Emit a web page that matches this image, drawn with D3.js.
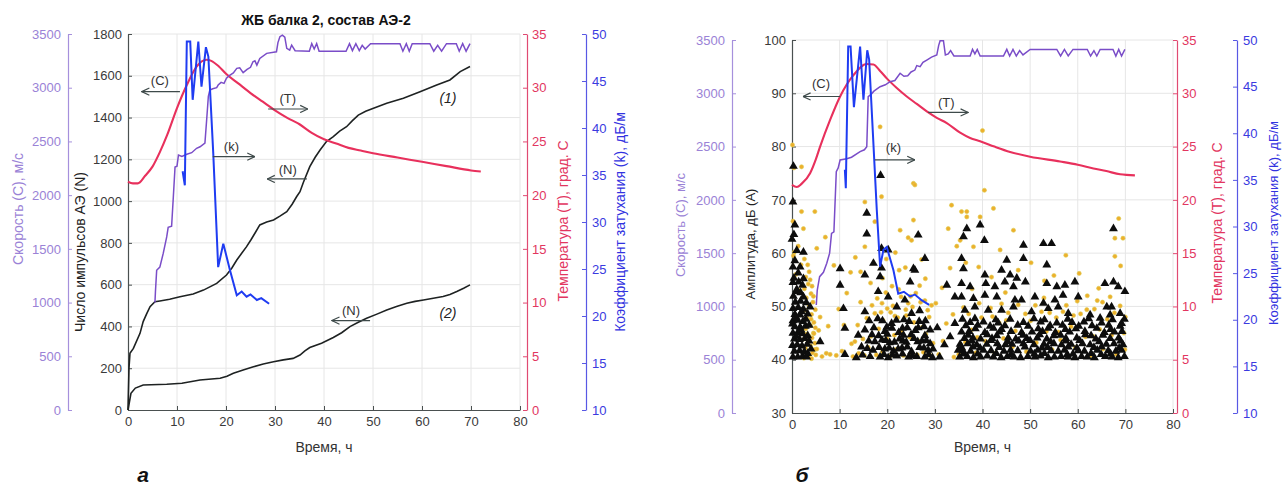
<!DOCTYPE html>
<html>
<head>
<meta charset="utf-8">
<script src="https://cdn.jsdelivr.net/npm/d3@7"></script>
<style>
  body { margin: 0; background: #fff; }
  svg text { font-family: "Liberation Sans", Arial, sans-serif; }
</style>
</head>
<body>
<svg id="fig" width="1282" height="490"></svg>
<script>
// ---- data (time in hours) ----
const timeTicks = [0, 10, 20, 30, 40, 50, 60, 70, 80];
const countTicks = [0, 200, 400, 600, 800, 1000, 1200, 1400, 1600, 1800];
const ampTicks = [30, 40, 50, 60, 70, 80, 90, 100];
const speedTicks = [0, 500, 1000, 1500, 2000, 2500, 3000, 3500];
const tempTicks = [0, 5, 10, 15, 20, 25, 30, 35];
const attTicks = [10, 15, 20, 25, 30, 35, 40, 45, 50];

// panel a: temperature T, speed C, attenuation k, AE counts N (beams 1 and 2)
const tempA = [[0,21.25],[1,21.1],[2,21.1],[3.5,21.8],[5,22.65],[6.5,24],[8,25.6],[10,28.1],[12,30.25],[14,31.96],[16,32.6],[17,32.5],[18.5,32.0],[20,31.3],[22.5,30.4],[25,29.5],[27.5,28.7],[30,27.9],[32.5,27.2],[35,26.6],[37.5,25.8],[40,25.2],[42.5,24.8],[45,24.4],[47.5,24.15],[50,23.9],[55,23.5],[60,23.1],[65,22.7],[70,22.3],[72,22.2]];
const speedA = [[5.5,1000],[5.6,1100],[5.85,1300],[6.5,1330],[7.2,1460],[7.9,1611],[8.2,1700],[8.9,1710],[9.25,1983],[9.6,2262],[10.0,2270],[10.3,2374],[11.0,2360],[12.0,2380],[13.0,2395],[14.0,2436],[14.7,2450],[15.7,2485],[16.05,2700],[16.4,2920],[16.7,2979],[17.3,2990],[18.1,3000],[18.4,3025],[19.0,3050],[19.6,3040],[20.1,3088],[20.6,3110],[21.5,3137],[22.2,3180],[22.8,3185],[23.5,3140],[24.3,3170],[25.0,3190],[25.5,3242],[25.9,3250],[26.3,3210],[26.9,3273],[28.3,3320],[30.3,3335],[30.6,3420],[31.0,3475],[31.5,3490],[32.0,3470],[32.4,3366],[33.0,3350],[33.4,3397],[34.1,3345],[37.0,3340],[37.5,3410],[38.0,3360],[38.5,3410],[39.0,3340],[44.5,3340],[45.2,3410],[45.8,3345],[46.5,3410],[47.2,3345],[47.8,3395],[48.4,3360],[49.5,3410],[55.5,3410],[56.1,3340],[56.8,3410],[57.4,3340],[58.0,3410],[61.6,3410],[62.4,3340],[63.2,3395],[64.0,3340],[65.0,3410],[67.0,3410],[67.6,3340],[68.3,3410],[69.0,3340],[69.8,3410]];
const attA = [[11.15,35.4],[11.6,33.9],[12.0,49.2],[12.7,49.2],[13.2,43.0],[14.35,49.2],[15.0,44.4],[15.9,48.6],[16.4,47.6],[17.4,37.3],[18.4,25.2],[19.45,27.7],[20.8,24.9],[22.2,22.2],[23.2,22.6],[24.2,22.05],[25.0,22.3],[26.3,21.7],[27.2,21.9],[28.8,21.3]];
const countA1 = [[0,0],[0.2,200],[0.4,271],[1.1,295],[2.45,367],[3.1,423],[3.8,460],[4.5,495],[5.5,518],[6.5,522],[8.5,530],[10.6,542],[13.3,555],[15.4,574],[18.1,606],[20.1,646],[21.2,680],[22.2,718],[23.2,750],[24.2,782],[25.1,815],[25.9,846],[26.9,886],[28.3,900],[29.7,910],[31.0,928],[32.4,949],[33.5,985],[34.4,1021],[35.1,1045],[35.8,1090],[37.1,1165],[38.2,1210],[39.2,1245],[40.5,1285],[41.9,1309],[43.2,1335],[44.6,1356],[45.8,1385],[47.0,1412],[48.5,1430],[50.1,1444],[52.8,1468],[56.2,1492],[59.6,1524],[63.0,1556],[65.7,1580],[67.8,1620],[69.8,1644]];
const countA2 = [[0,0],[0.6,80],[1.5,105],[3.1,120],[7.9,123],[11,128],[14.7,144],[18.8,152],[20.2,162],[21.5,176],[23.5,192],[25.6,207],[27.6,220],[29.7,231],[31.7,240],[33.7,247],[35.1,263],[36.1,283],[37.1,299],[39.5,320],[41.9,347],[43.6,370],[45.3,399],[47.0,420],[48.7,439],[50.8,459],[52.8,479],[54.8,496],[56.9,511],[58.6,520],[60.3,527],[62.3,535],[64.3,543],[65.7,553],[67.1,567],[68.5,583],[69.8,599]];

// panel b: same T, C, k plus AE amplitudes
const tempB = [[0,21.4],[1,21.2],[2,21.5],[3.8,22.5],[5,23.8],[5.9,25],[8,27.5],[10.1,29.7],[12.9,31.7],[15.7,32.75],[17.1,32.7],[18.5,32.1],[19.9,31.4],[22,30.5],[24.1,29.7],[26.2,29.0],[28.3,28.3],[30.4,27.7],[32.5,27.2],[35.3,26.3],[37.4,25.8],[39.5,25.5],[42.5,25.0],[45.8,24.5],[50,24.05],[56.3,23.6],[60,23.3],[63.3,22.95],[66,22.7],[68.9,22.4],[72,22.3]];
const speedB = [[5.1,1013],[5.3,1150],[5.8,1279],[6.6,1320],[7.3,1405],[7.9,1500],[8.3,1686],[8.8,1700],[9.3,2264],[9.7,2300],[10.1,2374],[11.5,2385],[12.5,2400],[14.3,2452],[15.2,2470],[15.7,2499],[16.0,2968],[16.6,2990],[17.2,3020],[18.5,3062],[19.6,3080],[20.6,3109],[21.6,3120],[22.7,3188],[23.5,3160],[24.3,3165],[25.0,3200],[25.8,3218],[26.2,3260],[26.9,3250],[27.5,3290],[28.3,3312],[29.3,3340],[30.4,3359],[30.8,3450],[31.1,3493],[31.8,3493],[32.2,3360],[32.8,3370],[33.3,3400],[34.0,3350],[37.4,3350],[37.9,3412],[38.4,3370],[38.9,3412],[39.5,3350],[44.4,3350],[45.1,3412],[45.7,3350],[46.4,3412],[47.1,3350],[47.8,3400],[48.5,3360],[50.0,3412],[55.6,3412],[56.4,3350],[57.2,3412],[58.0,3350],[59.0,3412],[62.0,3412],[62.7,3350],[63.4,3400],[64.0,3350],[64.7,3412],[67.4,3412],[68.0,3350],[68.6,3412],[69.2,3350],[69.9,3412]];
const attB = [[11.1,36.1],[11.3,34.1],[11.8,49.3],[12.3,49.3],[13.0,42.8],[14.3,49.3],[15.0,43.6],[15.8,48.9],[16.2,47.9],[17.8,31.8],[18.5,25.7],[19.2,27.5],[19.9,27.8],[21.3,25.3],[22.3,22.8],[23.5,23.0],[24.8,22.5],[25.8,22.7],[27.2,22.1],[28.8,21.6]];

// amplitude events, black triangles [t, dB]
const ampTri = [
  [0.2,40.5],[1.2,40.5],[2.2,40.6],[3.1,40.5],[0.5,41.6],[1.6,41.7],[2.6,41.5],[0.1,42.7],[1.1,42.8],[2.1,42.6],[3.2,42.9],[0.5,43.9],[1.6,43.8],[2.7,44.0],[0.2,45.0],[1.2,45.1],[2.2,44.9],[0.6,46.2],[1.7,46.1],[2.8,46.3],[0.2,47.3],[1.2,47.4],[2.3,47.2],[0.6,48.5],[1.7,48.4],[3.3,48.6],[0.2,49.6],[1.3,49.8],[2.4,49.5],[3.8,49.9],[0.7,50.8],[1.8,51.0],[0.3,51.9],[2.4,51.8],[1.0,53.2],[0.2,54.5],[2.2,54.0],[0.4,55.3],[2.4,55.2],[1.3,56.3],[0.2,57.4],[1.7,57.4],[2.4,60.2],[0.0,62.6],[0.4,63.5],[0.6,65.3],[0.2,69.6],[0.3,76.3],[3.3,44.5],[3.6,46.5],
  [3.3,41.2],[3.6,43.5],[0.9,52.8],[1.8,52.6],[3.0,50.7],[4.0,42.0],[0.9,44.4],[0.9,47.9],[2.0,49.0],[1.9,45.6],[0.1,46.7],[2.9,47.6],[1.4,54.6],[0.6,58.6],[1.0,60.5],
  [5.9,43.4],[10.1,57.1],[10.1,54.0],[10.8,49.6],[11.1,45.9],[11.1,41.0],
  [13.5,40.4],[16.4,40.6],[18.5,40.5],[20.2,40.4],[22.0,40.7],[24.5,40.5],[26.2,40.6],[27.9,40.5],[29.5,40.4],
  [14.6,42.4],[17.0,41.8],[19.5,42.0],[21.3,41.6],[23.1,42.2],[25.1,41.5],[26.8,42.3],[28.6,41.8],
  [13.9,44.6],[17.4,43.4],[18.9,43.7],[20.5,43.2],[22.6,43.9],[24.0,43.3],[25.6,44.0],[27.3,43.5],[29.0,43.0],
  [15.3,45.6],[19.5,45.3],[21.0,45.9],[22.4,45.1],[24.2,46.0],[25.9,45.5],[29.0,45.6],
  [16.2,47.3],[18.0,47.7],[20.9,46.8],[23.5,47.5],[26.7,47.2],
  [14.8,40.9],[19.3,41.0],[21.1,40.9],[23.2,41.1],[25.3,40.8],[28.7,41.0],
  [15.8,42.1],[18.3,42.3],[20.4,42.2],[22.3,42.0],[24.2,42.4],[27.7,42.2],[29.6,42.0],
  [16.1,43.5],[19.7,43.6],[21.5,43.3],[23.3,43.5],[26.4,43.4],[28.2,43.6],
  [16.8,44.7],[18.2,44.5],[20.0,44.8],[23.4,44.6],[25.0,44.7],[27.9,44.5],
  [17.2,46.0],[19.9,46.1],[23.2,45.9],[26.5,46.0],[27.7,46.2],
  [19.0,47.3],[21.9,47.4],[24.6,47.2],[28.0,47.3],
  [15.3,49.0],[18.1,52.8],[20.2,51.8],[22.0,49.9],[23.7,51.2],[25.1,48.7],[26.8,49.2],[15.3,55.9],[17.1,58.1],[18.5,55.6],[18.8,57.2],[18.8,60.9],[20.2,60.6],[25.5,57.1],[25.8,56.8],[27.9,59.0],[26.5,63.4],[24.8,54.6],[15.7,63.6],[15.7,67.5],[18.6,74.6],
  [31.0,40.5],[32.0,42.8],[33.2,44.3],[32.5,54.0],[34.2,51.8],[34.2,46.8],[34.9,41.8],[30.5,46.0],
  [35.2,40.5],[36.8,40.6],[38.1,40.4],[39.6,40.5],[41.0,40.7],[42.3,40.5],[43.9,40.4],[45.2,40.6],[46.6,40.5],[48.0,40.4],[49.5,40.6],[51.0,40.5],[52.2,40.7],[53.8,40.4],[55.1,40.5],[56.5,40.6],[58.0,40.5],[59.4,40.4],[60.8,40.6],[62.0,40.5],[63.5,40.4],[65.8,40.6],[67.2,40.5],[68.5,40.4],[69.8,40.6],
  [35.9,41.7],[37.5,41.6],[40.2,41.8],[41.8,41.7],[44.5,41.6],[45.9,41.8],[47.4,41.7],[50.1,41.6],[51.6,41.8],[54.4,41.7],[55.9,41.6],[57.2,41.8],[60.1,41.7],[61.4,41.6],[64.1,41.8],[66.4,41.7],[68.0,41.6],[69.2,41.8],
  [35.3,42.9],[36.9,43.0],[38.8,42.8],[40.9,42.9],[43.1,43.0],[44.8,42.8],[46.2,42.9],[48.6,43.0],[50.8,42.8],[52.9,42.9],[55.0,43.0],[56.6,42.8],[58.6,42.9],[61.0,43.0],[62.6,42.8],[66.0,42.9],[67.6,43.0],[69.5,42.8],
  [36.2,44.0],[38.0,44.1],[39.6,43.9],[42.0,44.0],[45.4,44.1],[47.0,43.9],[49.3,44.0],[51.5,44.1],[53.5,43.9],[57.5,44.0],[59.8,44.1],[63.8,43.9],[66.8,44.0],[68.6,44.1],
  [35.6,45.2],[37.2,45.3],[40.5,45.1],[43.6,45.2],[46.0,45.3],[48.2,45.1],[50.4,45.2],[52.6,45.3],[55.3,45.1],[58.3,45.2],[61.5,45.3],[65.6,45.1],[67.7,45.2],[69.3,45.3],
  [36.5,46.4],[39.0,46.5],[41.6,46.3],[44.7,46.4],[47.4,46.5],[49.6,46.3],[54.2,46.4],[56.8,46.5],[60.2,46.3],[63.0,46.4],[66.5,46.5],[68.9,46.3],
  [35.8,47.6],[38.4,47.7],[42.8,47.5],[45.8,47.6],[50.8,47.7],[53.0,47.5],[57.9,47.6],[62.3,47.7],[67.3,47.5],[69.8,47.6],
  [36.0,41.1],[39.0,41.1],[42.9,41.2],[46.0,41.0],[50.9,41.1],[53.0,41.2],[57.8,41.0],[59.0,41.1],[62.8,41.2],[64.9,41.0],[66.9,41.1],
  [35.6,42.3],[38.0,42.4],[39.5,42.2],[43.5,42.3],[48.9,42.4],[52.5,42.2],[53.7,42.3],[58.0,42.4],[59.8,42.2],[63.4,42.3],[65.0,42.4],[68.7,42.2],
  [37.8,43.5],[41.8,43.6],[45.3,43.4],[47.6,43.5],[50.0,43.6],[54.3,43.4],[57.5,43.5],[60.4,43.6],[64.5,43.4],[69.0,43.5],
  [37.0,44.6],[41.0,44.7],[43.0,44.5],[48.5,44.6],[52.0,44.7],[55.0,44.5],[56.4,44.6],[61.6,44.7],[62.8,44.5],[65.3,44.6],
  [38.5,45.8],[42.3,45.9],[44.0,45.7],[51.7,45.8],[53.8,45.9],[57.4,45.7],[59.6,45.8],[64.0,45.9],[66.9,45.7],
  [37.4,47.0],[40.2,47.1],[43.3,46.9],[48.6,47.0],[52.2,47.1],[55.6,46.9],[58.8,47.0],[61.3,47.1],[65.0,46.9],
  [36.7,64.6],[39.5,65.3],[36.0,63.1],[40.4,62.4],[48.6,61.5],[52.8,61.8],[54.5,61.8],[67.5,64.6],[35.6,59.0],[45.1,58.7],[48.6,59.0],[53.5,57.8],[36.0,57.1],[40.5,55.9],[44.0,56.8],[45.8,55.9],[47.2,55.3],[35.6,54.3],[37.4,53.7],[40.7,54.3],[42.6,53.7],[44.7,54.6],[46.5,53.7],[49.0,54.6],[53.5,54.3],[55.6,53.7],[57.3,54.0],[59.4,54.6],[65.7,54.3],[67.5,54.6],[68.5,53.7],[69.9,52.8],
  [35.6,51.8],[38.1,51.5],[40.5,52.1],[43.0,51.8],[46.8,51.2],[48.2,51.2],[51.0,51.8],[52.8,50.6],[55.2,51.2],[56.9,52.1],[60.1,51.8],[66.1,49.9],[67.1,49.9],[68.9,48.7],[36.3,49.3],[38.4,49.9],[41.2,49.3],[44.0,49.3],[46.5,49.9],[50.3,49.0],[53.8,49.6],[55.9,49.9],[58.0,48.7],[62.6,48.4],[64.7,47.8],[66.8,48.4],[69.2,46.8]
];

// amplitude events, yellow dots [t, dB]
const ampDot = [
  [2.5,40.3],[3.5,40.8],[4.3,41.3],[2.8,42.2],[3.9,42.6],[4.8,43.1],[2.6,43.9],[3.6,44.4],[4.5,45.0],[2.9,45.8],[3.9,46.4],[4.6,47.0],[3.1,47.9],[4.1,48.5],[2.7,49.3],[3.6,50.2],[4.4,50.8],[3.0,51.6],[4.0,52.4],[2.6,53.3],[3.4,54.2],[2.9,55.5],[3.6,56.5],[1.9,57.8],[2.6,58.9],[0.3,59.5],[0.8,56.0],[1.5,53.0],[5.2,42.0],[5.6,45.5],[6.3,40.6],[7.2,41.2],[5.9,48.0],[4.2,53.8],[5.2,60.9],[2.0,67.8],[4.8,67.8],[2.4,64.6],[2.0,76.2],[0.1,80.3],[0.4,76.0],[1.3,61.3],[0.2,66.0],[0.5,60.2],[3.0,44.8],[4.9,46.0],
  [4.1,40.2],[4.7,41.9],[4.2,44.1],[4.9,49.4],[4.5,51.9],[3.8,55.0],[4.6,44.9],[5.0,40.9],[3.3,57.8],[4.0,47.6],
  [8.0,41.0],[9.3,40.8],[10.5,41.6],[7.6,46.3],[9.8,49.5],[11.5,52.5],[12.3,56.4],[8.8,57.7],[7.0,63.0],[10.9,46.5],[12.5,43.0],
  [12.8,40.6],[14.0,41.2],[15.2,40.8],[16.0,42.3],[17.7,40.9],[19.0,41.5],[20.6,40.7],[21.8,41.9],[23.4,40.8],[24.9,41.1],[26.3,40.9],[27.6,41.4],[29.0,40.8],
  [13.2,43.4],[14.9,43.9],[16.6,44.4],[18.2,45.8],[19.9,44.0],[21.5,44.6],[23.0,45.4],[24.7,44.2],[26.4,43.6],[28.1,44.8],[29.6,43.1],
  [13.8,46.5],[15.7,47.8],[17.4,48.7],[19.1,47.4],[20.7,48.9],[22.2,47.9],[23.9,49.4],[25.6,47.0],[27.4,46.1],[28.8,48.0],
  [14.4,50.8],[16.8,50.2],[18.9,50.6],[21.2,50.1],[22.9,51.8],[24.4,50.6],[26.0,52.5],[27.9,51.1],[29.3,50.2],
  [18.7,48.9],[20.0,49.6],[21.6,48.2],[24.0,48.3],[25.3,49.9],[27.0,50.8],[28.5,49.3],[17.9,51.5],[19.7,52.6],[22.4,53.2],[24.9,51.9],[26.8,53.9],
  [15.3,61.2],[15.3,69.6],[17.4,65.9],[18.8,70.6],[22.7,64.3],[25.5,66.2],[25.1,62.4],[25.5,73.1],[25.8,72.8],[18.5,83.7],[19.8,58.9],[21.7,60.1],[23.8,57.3],[24.4,62.9],[27.2,58.8],[28.0,55.2],[16.5,54.4],[19.0,55.3],[21.0,53.8],[22.5,56.8],[13.3,59.2],[14.4,56.5],
  [32.8,64.6],[33.5,69.0],[30.8,41.0],[31.7,43.5],[32.4,46.8],[33.8,48.5],[30.2,50.6],[31.5,53.5],[33.2,57.2],[34.6,61.3],[34.0,40.5],
  [40.4,71.8],[35.6,67.8],[36.7,67.8],[36.7,66.8],[42.3,68.4],[39.5,66.8],[46.5,64.3],[68.6,66.5],[67.8,62.8],[69.5,62.8],[67.8,59.4],[57.5,59.6],[43.7,60.6],[38.1,61.2],[35.3,62.4],[40.0,83.0],[53.0,54.8],[47.5,56.8],[60.3,56.2],[64.4,53.4],[50.2,58.2],[44.8,52.6],[62.0,52.0],[55.0,55.8],[69.0,57.6],[65.2,50.8],[36.5,58.2],[39.2,57.4],[41.9,55.5],[37.8,53.3],
  [35.0,41.0],[36.4,43.3],[37.7,45.6],[38.6,41.3],[39.8,47.9],[40.6,43.5],[41.7,49.7],[42.6,41.2],[43.5,46.9],[44.4,44.0],[45.4,48.8],[46.3,42.4],[47.5,50.3],[48.4,44.9],[49.2,41.5],[50.1,47.3],[51.3,43.2],[52.4,49.0],[53.4,45.3],[54.6,41.9],[55.5,47.9],[56.4,43.7],[57.6,50.2],[58.6,46.2],[59.5,42.3],[60.6,48.6],[61.6,44.3],[62.6,40.7],[63.5,49.5],[64.6,45.7],[65.3,42.0],[66.2,47.6],[67.1,44.6],[68.1,41.0],[68.9,50.1],[69.7,45.0],[36.0,49.8],[44.0,50.5],[52.9,51.6],[59.9,51.0],[66.8,51.8],
  [37.1,48.6],[39.3,50.6],[42.1,48.1],[45.0,47.4],[49.0,48.6],[51.1,50.2],[54.1,48.8],[56.9,49.0],[59.1,48.3],[61.9,49.4],[64.1,51.1],[67.7,48.8],[70.0,48.0],[38.9,44.2],[46.9,45.4],[55.9,45.2],[63.2,44.4],[69.9,41.9]
];

// arrow annotations in data units: from t0 to t1 at level v, label at (lt, lv)
const notesA = [
  { text: "(C)", t0: 10.6, t1: 2.8, v: 1524, lt: 6.5, lv: 1556 },
  { text: "(T)", t0: 28.6, t1: 36.7, v: 1441, lt: 32.6, lv: 1470 },
  { text: "(k)", t0: 17.3, t1: 25.9, v: 1213, lt: 21.1, lv: 1240 },
  { text: "(N)", t0: 36.5, t1: 28.4, v: 1106, lt: 32.6, lv: 1132 },
  { text: "(N)", t0: 49.4, t1: 41.6, v: 428, lt: 45.5, lv: 455 }
];
const curveLabelsA = [
  { text: "(1)", t: 65.3, v: 1468 },
  { text: "(2)", t: 65.3, v: 440 }
];
const notesB = [
  { text: "(C)", t0: 10.1, t1: 2.3, v: 89.4, lt: 6.1, lv: 90.9 },
  { text: "(T)", t0: 28.6, t1: 37.0, v: 86.4, lt: 32.4, lv: 87.4 },
  { text: "(k)", t0: 17.4, t1: 25.8, v: 77.5, lt: 21.3, lv: 78.9 }
];

// ---- drawing ----
const svg = d3.select("#fig");
const cSpeed = "#7a4dc8", cSpeedAx = "#a690dc";
const cTemp = "#e8305c", cTempAx = "#e04a72";
const cAtt = "#1f3cf2", cAttAx = "#3a3ae0";
const cGrid = "#e6e6e6", cMain = "#4a5050";
const fmt = d3.format("d");

const defs = svg.append("defs");
defs.append("marker")
  .attr("id", "arr")
  .attr("viewBox", "0 0 10 10")
  .attr("refX", 9.5).attr("refY", 5)
  .attr("markerWidth", 9).attr("markerHeight", 9)
  .attr("markerUnits", "userSpaceOnUse")
  .attr("orient", "auto")
  .append("path")
  .attr("d", "M1,1 L9.5,5 L1,9")
  .attr("fill", "none")
  .attr("stroke", "#3e4a4a")
  .attr("stroke-width", 1.3);

function styleAxis(sel, lineColor, textColor) {
  sel.select(".domain").attr("stroke", lineColor).attr("stroke-width", 1.2);
  sel.selectAll(".tick line").attr("stroke", lineColor);
  sel.selectAll(".tick text").attr("fill", textColor).attr("font-size", 13);
}

function vLabel(x, y, text, color, size) {
  svg.append("text")
    .attr("transform", `translate(${x},${y}) rotate(-90)`)
    .attr("text-anchor", "middle")
    .attr("dominant-baseline", "central")
    .attr("font-size", size)
    .attr("fill", color)
    .text(text);
}

function drawPanel(p) {
  const x = d3.scaleLinear().domain([0, 80]).range([p.left, p.right]);
  const y = d3.scaleLinear().domain(p.yDomain).range([p.bottom, p.top]);
  const yC = d3.scaleLinear().domain([0, 3500]).range([p.bottom, p.top]);
  const yT = d3.scaleLinear().domain([0, 35]).range([p.bottom, p.top]);
  const yK = d3.scaleLinear().domain([10, 50]).range([p.bottom, p.top]);
  const g = svg.append("g");

  // grid and box
  g.append("g").selectAll("line").data(timeTicks.slice(1)).join("line")
    .attr("x1", d => x(d)).attr("x2", d => x(d))
    .attr("y1", p.top).attr("y2", p.bottom)
    .attr("stroke", cGrid);
  g.append("g").selectAll("line").data(p.yTicks.slice(1)).join("line")
    .attr("x1", p.left).attr("x2", p.right)
    .attr("y1", d => y(d)).attr("y2", d => y(d))
    .attr("stroke", cGrid);

  // axes
  const bottomAx = g.append("g").attr("transform", `translate(0,${p.bottom})`)
    .call(d3.axisBottom(x).tickValues(timeTicks).tickFormat(fmt).tickSizeInner(-4).tickSizeOuter(0).tickPadding(7));
  styleAxis(bottomAx, cMain, "#3a3a3a");
  const leftAx = g.append("g").attr("transform", `translate(${p.left},0)`)
    .call(d3.axisLeft(y).tickValues(p.yTicks).tickFormat(fmt).tickSizeInner(-4).tickSizeOuter(0).tickPadding(6));
  styleAxis(leftAx, cMain, "#3a3a3a");
  const speedAx = g.append("g").attr("transform", `translate(${p.speedX},0)`)
    .call(d3.axisLeft(yC).tickValues(speedTicks).tickFormat(fmt).tickSizeInner(-4).tickSizeOuter(0).tickPadding(7));
  styleAxis(speedAx, cSpeedAx, "#9a82d6");
  const tempAx = g.append("g").attr("transform", `translate(${p.tempX},0)`)
    .call(d3.axisRight(yT).tickValues(tempTicks).tickFormat(fmt).tickSizeInner(-4).tickSizeOuter(0).tickPadding(5));
  styleAxis(tempAx, cTempAx, "#e2365f");
  const attAx = g.append("g").attr("transform", `translate(${p.attX},0)`)
    .call(d3.axisRight(yK).tickValues(attTicks).tickFormat(fmt).tickSizeInner(-4).tickSizeOuter(0).tickPadding(6));
  styleAxis(attAx, "#5858e4", cAttAx);

  // amplitude scatter
  if (p.dots) {
    g.append("g").selectAll("circle").data(p.dots).join("circle")
      .attr("cx", d => x(d[0])).attr("cy", d => y(d[1]))
      .attr("r", 2.1)
      .attr("fill", "#eeaf2c")
      .attr("stroke", "#dccf55").attr("stroke-width", 0.6);
    g.append("g").selectAll("path").data(p.tris).join("path")
      .attr("transform", d => `translate(${x(d[0])},${y(d[1])})`)
      .attr("d", d3.symbol().type(d3.symbolTriangle).size(34))
      .attr("fill", "#0d0d0d");
  }

  // curves
  const line = sc => d3.line().x(d => x(d[0])).y(d => sc(d[1]));
  (p.counts || []).forEach(c => {
    g.append("path").datum(c).attr("d", line(y))
      .attr("fill", "none").attr("stroke", "#1e2222").attr("stroke-width", 1.6);
  });
  g.append("path").datum(p.temp).attr("d", line(yT).curve(d3.curveMonotoneX))
    .attr("fill", "none").attr("stroke", cTemp).attr("stroke-width", 2.1);
  g.append("path").datum(p.speed).attr("d", line(yC))
    .attr("fill", "none").attr("stroke", cSpeed).attr("stroke-width", 1.5);
  g.append("path").datum(p.att).attr("d", line(yK))
    .attr("fill", "none").attr("stroke", cAtt).attr("stroke-width", 2);

  // annotations
  p.notes.forEach(n => {
    g.append("line")
      .attr("x1", x(n.t0)).attr("x2", x(n.t1))
      .attr("y1", y(n.v)).attr("y2", y(n.v))
      .attr("stroke", "#3e4a4a").attr("stroke-width", 1.2)
      .attr("marker-end", "url(#arr)");
    g.append("text").attr("x", x(n.lt)).attr("y", y(n.lv))
      .attr("text-anchor", "middle").attr("font-size", 13).attr("fill", "#333")
      .text(n.text);
  });
  (p.curveLabels || []).forEach(n => {
    g.append("text").attr("x", x(n.t)).attr("y", y(n.v))
      .attr("text-anchor", "middle").attr("font-size", 14)
      .attr("font-style", "italic").attr("fill", "#222")
      .text(n.text);
  });

  // x label and panel letter
  g.append("text").attr("x", x(40)).attr("y", 452)
    .attr("text-anchor", "middle").attr("font-size", 14).attr("fill", "#333")
    .text("Время, ч");
  g.append("text").attr("x", p.letterX).attr("y", 482)
    .attr("text-anchor", "middle").attr("font-size", 21)
    .attr("font-weight", "bold").attr("font-style", "italic").attr("fill", "#111")
    .text(p.letter);
}

drawPanel({
  left: 128, right: 520, top: 34, bottom: 410,
  speedX: 68, tempX: 527, attX: 586,
  yDomain: [0, 1800], yTicks: countTicks,
  temp: tempA, speed: speedA, att: attA,
  counts: [countA1, countA2],
  notes: notesA, curveLabels: curveLabelsA,
  letter: "а", letterX: 143
});
drawPanel({
  left: 792, right: 1173, top: 40, bottom: 413,
  speedX: 732, tempX: 1177, attX: 1237,
  yDomain: [30, 100], yTicks: ampTicks,
  temp: tempB, speed: speedB, att: attB,
  dots: ampDot, tris: ampTri,
  notes: notesB,
  letter: "б", letterX: 802
});

// titles and axis labels
svg.append("text").attr("x", 326).attr("y", 25)
  .attr("text-anchor", "middle").attr("font-size", 14).attr("font-weight", "bold").attr("fill", "#111")
  .text("ЖБ балка 2, состав АЭ-2");

vLabel(18, 209, "Скорость (С), м/с", "#9a82d6", 14);
vLabel(80, 252, "Число импульсов АЭ (N)", "#222", 14);
vLabel(563, 221, "Температура (T), град. С", "#e2365f", 14);
vLabel(620, 222, "Коэффициент затухания (k), дБ/м", "#3232e0", 14);

vLabel(680, 225, "Скорость (С), м/с", "#9a82d6", 13);
vLabel(750, 244, "Амплитуда, дБ (А)", "#222", 13);
vLabel(1217, 223, "Температура (T), град. С", "#e2365f", 14);
vLabel(1273, 223, "Коэффициент затухания (k), дБ/м", "#3232e0", 13);
</script>
</body>
</html>
